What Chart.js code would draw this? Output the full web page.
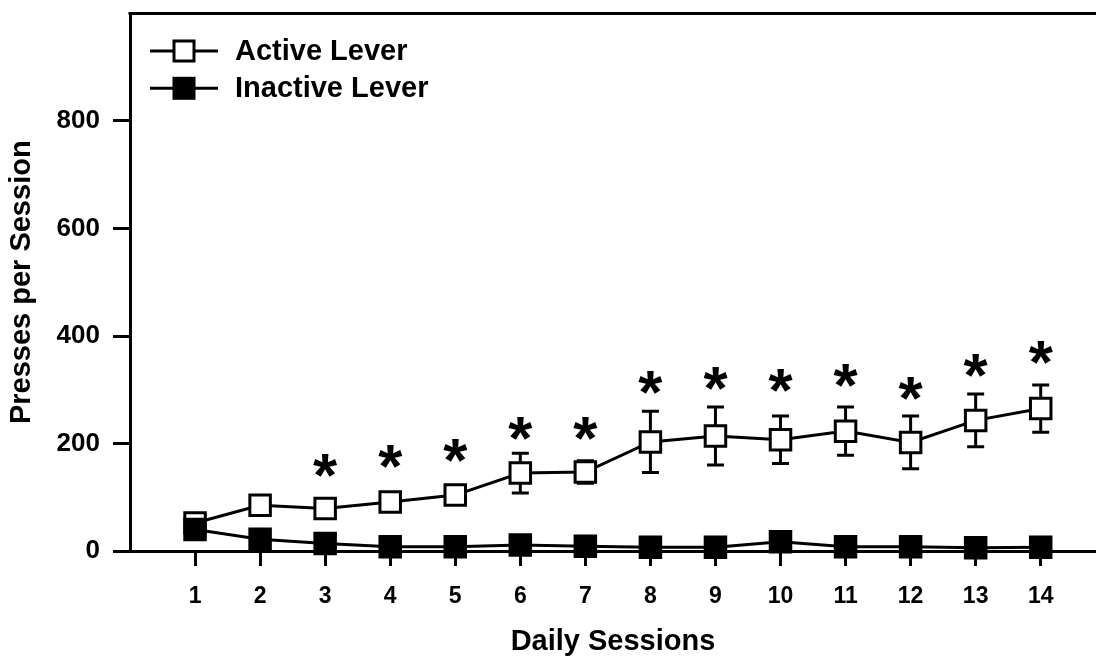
<!DOCTYPE html>
<html>
<head>
<meta charset="utf-8">
<script src="https://cdn.jsdelivr.net/npm/chart.js@4/dist/chart.umd.min.js"></script>
<style>
  html, body { margin: 0; padding: 0; background: #fff; overflow: hidden; }
  #wrap { width: 1096px; height: 661px; overflow: hidden; }
  canvas { display: block; }
</style>
</head>
<body>
<div id="wrap"><canvas id="c" width="1096" height="661"></canvas></div>
<script>
// ---- data ----
const sessions = [1, 2, 3, 4, 5, 6, 7, 8, 9, 10, 11, 12, 13, 14];
const activeMean = [52, 85, 79, 91, 104, 145, 147, 203, 214, 207, 223, 202, 243, 265];
const activeSem = [12, 15, 14, 14, 15, 37, 21, 57, 54, 44, 45, 49, 49, 44];
const inactiveMean = [40, 22, 14, 8, 8, 11, 9, 7, 7, 17, 8, 8, 6, 7];
const inactiveSem = [8, 6, 4, 3, 3, 4, 3, 3, 3, 5, 3, 3, 2, 2];
const starLevel = [null, null, 160, 175, 187, 228, 228, 314, 321, 317, 327, 302, 345, 370];
const yTicks = [0, 200, 400, 600, 800];
const seriesNames = ['Active Lever', 'Inactive Lever'];
const xTitle = 'Daily Sessions';
const yTitle = 'Presses per Session';

Chart.defaults.font.family = "'Liberation Sans', Arial, sans-serif";
Chart.defaults.color = '#000';

const toPts = (arr) => arr.map((v, i) => ({ x: sessions[i], y: v }));

const errorBars = {
  id: 'errorBars',
  beforeDatasetsDraw(chart) {
    const ctx = chart.ctx;
    const xs = chart.scales.x, ys = chart.scales.y;
    const sets = [[activeMean, activeSem], [inactiveMean, inactiveSem]];
    ctx.save();
    ctx.strokeStyle = '#000';
    ctx.lineWidth = 3;
    sets.forEach(([m, e]) => {
      m.forEach((v, i) => {
        const px = xs.getPixelForValue(sessions[i]);
        const top = ys.getPixelForValue(v + e[i]);
        const bot = ys.getPixelForValue(v - e[i]);
        ctx.beginPath();
        ctx.moveTo(px, top); ctx.lineTo(px, bot);
        ctx.moveTo(px - 8.5, top); ctx.lineTo(px + 8.5, top);
        ctx.moveTo(px - 8.5, bot); ctx.lineTo(px + 8.5, bot);
        ctx.stroke();
      });
    });
    ctx.restore();
  }
};

const decorations = {
  id: 'decorations',
  afterDraw(chart) {
    const ctx = chart.ctx;
    const a = chart.chartArea;
    const xs = chart.scales.x, ys = chart.scales.y;
    ctx.save();
    // top frame line
    ctx.strokeStyle = '#000';
    ctx.lineWidth = 3;
    ctx.beginPath();
    ctx.moveTo(a.left - 1.5, a.top);
    ctx.lineTo(a.right, a.top);
    ctx.stroke();

    // asterisks
    ctx.fillStyle = '#000';
    ctx.font = "bold 62px 'Liberation Sans', Arial, sans-serif";
    ctx.textAlign = 'center';
    ctx.textBaseline = 'alphabetic';
    const m = ctx.measureText('*');
    const asc = m.actualBoundingBoxAscent, desc = m.actualBoundingBoxDescent;
    starLevel.forEach((v, i) => {
      if (v == null) return;
      const px = xs.getPixelForValue(sessions[i]);
      const py = ys.getPixelForValue(v);
      ctx.fillText('*', px, py + (asc - desc) / 2);
    });

    // legend
    const rows = [
      { name: seriesNames[0], fill: '#fff' },
      { name: seriesNames[1], fill: '#000' }
    ];
    ctx.font = "bold 29px 'Liberation Sans', Arial, sans-serif";
    ctx.textAlign = 'left';
    ctx.textBaseline = 'middle';
    rows.forEach((r, k) => {
      const ly = a.top + 37.5 + k * 37.3;
      const lx = a.left + 20;
      ctx.lineWidth = 3;
      ctx.beginPath();
      ctx.moveTo(lx, ly); ctx.lineTo(lx + 68, ly);
      ctx.stroke();
      ctx.fillStyle = r.fill;
      ctx.fillRect(lx + 34 - 10, ly - 10, 20, 20);
      ctx.strokeRect(lx + 34 - 10, ly - 10, 20, 20);
      ctx.fillStyle = '#000';
      ctx.fillText(r.name, lx + 85, ly + 1);
    });
    ctx.restore();
  }
};

const zeroPad = (s) => { s.paddingTop = 0; s.paddingBottom = 0; s.paddingLeft = 0; s.paddingRight = 0; };

new Chart(document.getElementById('c'), {
  type: 'line',
  data: {
    datasets: [
      {
        label: seriesNames[0],
        data: toPts(activeMean),
        borderColor: '#000', borderWidth: 3,
        pointStyle: 'rect', pointRadius: 14.5, pointHoverRadius: 14.5,
        pointBackgroundColor: '#fff', pointBorderColor: '#000', pointBorderWidth: 3,
        tension: 0, clip: false, order: 1
      },
      {
        label: seriesNames[1],
        data: toPts(inactiveMean),
        borderColor: '#000', borderWidth: 3,
        pointStyle: 'rect', pointRadius: 14.5, pointHoverRadius: 14.5,
        pointBackgroundColor: '#000', pointBorderColor: '#000', pointBorderWidth: 3,
        tension: 0, clip: false, order: 0
      }
    ]
  },
  options: {
    responsive: false,
    animation: false,
    devicePixelRatio: 1,
    layout: { autoPadding: false, padding: { top: 13.5, left: 0, right: 0, bottom: 0 } },
    plugins: { legend: { display: false }, tooltip: { enabled: false } },
    scales: {
      x: {
        type: 'linear', min: 0, max: 14.85,
        afterBuildTicks: (s) => { s.ticks = sessions.map(v => ({ value: v })); },
        afterFit: (s) => { s.height = 110; zeroPad(s); },
        ticks: {
          autoSkip: false, maxRotation: 0, padding: 17,
          font: { size: 23, weight: 'bold' }, color: '#000',
          callback: (v) => String(v)
        },
        grid: { drawOnChartArea: false, tickLength: 15, tickWidth: 3, tickColor: '#000' },
        border: { display: true, color: '#000', width: 3 },
        title: {
          display: true, text: xTitle, color: '#000',
          font: { size: 29, weight: 'bold' }, padding: { top: 0, bottom: 2 }
        }
      },
      y: {
        min: 0, max: 1000,
        afterBuildTicks: (s) => { s.ticks = yTicks.map(v => ({ value: v })); },
        afterFit: (s) => { s.width = 130; zeroPad(s); },
        ticks: {
          padding: 13, font: { size: 26, weight: 'bold' }, color: '#000',
          callback: (v) => String(v)
        },
        grid: { drawOnChartArea: false, tickLength: 17, tickWidth: 3, tickColor: '#000' },
        border: { display: true, color: '#000', width: 3 },
        title: {
          display: true, text: yTitle, color: '#000',
          font: { size: 29, weight: 'bold' }, padding: { top: 5, bottom: 0 }
        }
      }
    }
  },
  plugins: [errorBars, decorations]
});
</script>
</body>
</html>
